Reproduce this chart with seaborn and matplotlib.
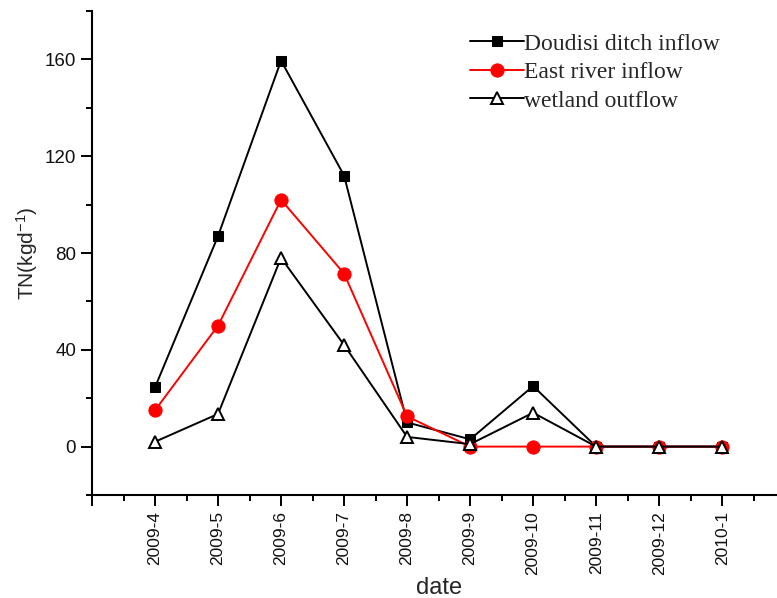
import matplotlib
matplotlib.use("Agg")
import matplotlib.pyplot as plt
from matplotlib.ticker import FixedLocator, MultipleLocator
import seaborn as sns

# Monthly TN loads
dates = ["2009-4", "2009-5", "2009-6", "2009-7", "2009-8",
         "2009-9", "2009-10", "2009-11", "2009-12", "2010-1"]
doudisi_inflow = [24.5, 87, 159.5, 112, 10, 3, 25, 0, 0, 0]
east_river_inflow = [15, 50, 102, 71.5, 12.5, 0, 0, 0, 0, 0]
wetland_outflow = [2, 13.5, 78, 42, 4, 1, 14, 0, 0, 0]

sns.set_theme(style="ticks")
plt.rcParams["font.family"] = ["Liberation Sans", "DejaVu Sans"]
plt.rcParams["mathtext.default"] = "regular"

W, H = 777, 598
fig = plt.figure(figsize=(W / 100, H / 100), dpi=100)
ax_left, ax_bottom, ax_top = 92, 495, 11
ax = fig.add_axes([ax_left / W, 1 - ax_bottom / H, 1 - ax_left / W,
                   (ax_bottom - ax_top) / H])

pos = list(range(len(dates)))
lw = 1.4
sns.lineplot(x=pos, y=doudisi_inflow, ax=ax, color="black", lw=lw,
             marker="s", markersize=7.5, markerfacecolor="black",
             markeredgecolor="black", label="Doudisi ditch inflow")
sns.lineplot(x=pos, y=east_river_inflow, ax=ax, color="red", lw=lw,
             marker="o", markersize=9.5, markerfacecolor="red",
             markeredgecolor="red", label="East river inflow")
sns.lineplot(x=pos, y=wetland_outflow, ax=ax, color="black", lw=lw,
             marker="^", markersize=9, markerfacecolor="white",
             markeredgecolor="black", markeredgewidth=1.4,
             label="wetland outflow")

ax.set_xlim(-1, 9.87)
ax.set_ylim(-20, 180)

ax.xaxis.set_major_locator(FixedLocator([-1] + pos))
ax.set_xticklabels([""] + dates, rotation=90)
ax.xaxis.set_minor_locator(FixedLocator([p + 0.5 for p in [-1] + pos]))
ax.yaxis.set_major_locator(FixedLocator([0, 40, 80, 120, 160]))
ax.yaxis.set_minor_locator(MultipleLocator(20))
ax.tick_params(axis="both", which="major", direction="out", length=8,
               width=1.4, color="black", labelsize=13.5, labelcolor="#111111")
ax.tick_params(axis="both", which="minor", direction="out", length=4.5,
               width=1.4, color="black")
ax.tick_params(axis="x", labelsize=12.5)

sns.despine(ax=ax)
for s in ("left", "bottom"):
    ax.spines[s].set_linewidth(1.5)
    ax.spines[s].set_color("black")

ax.set_xlabel("date", fontsize=17, labelpad=2)
ax.xaxis.label.set_x(0.507)
ax.set_ylabel("TN(kgd$^{-1}$)", fontsize=15, labelpad=3)

leg_x = (470 - ax_left) / (W - ax_left)
leg_y = (ax_bottom - 33) / (ax_bottom - ax_top)
ax.legend(loc="upper left", bbox_to_anchor=(leg_x, leg_y),
          frameon=False, handlelength=2.3, handletextpad=0.0,
          labelspacing=0.3, borderaxespad=0, borderpad=0,
          prop={"family": "Liberation Serif", "size": 17})

fig.savefig("out.png", dpi=100)
